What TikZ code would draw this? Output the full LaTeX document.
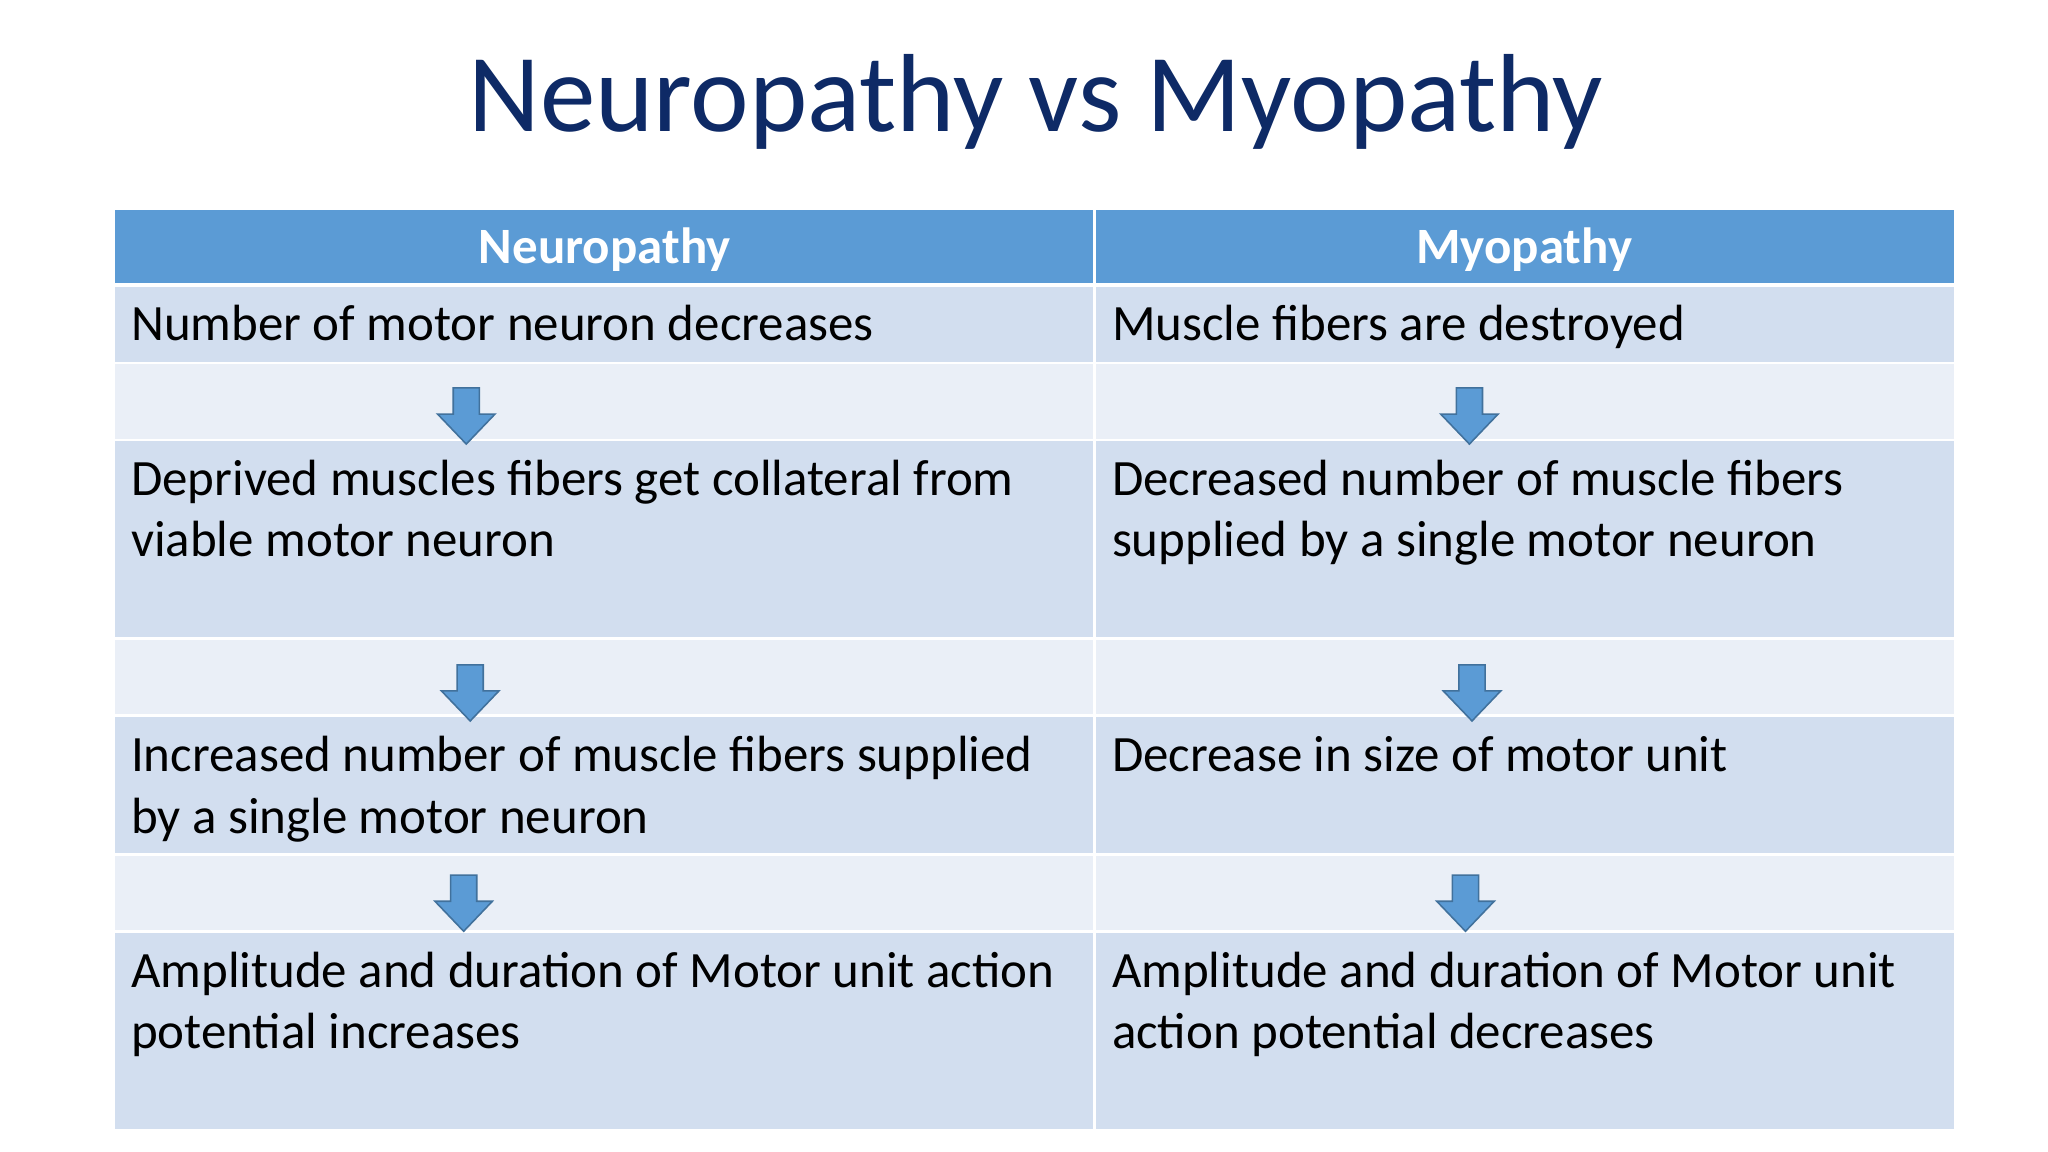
\documentclass[tikz,border=0pt]{standalone}
\usepackage{fontspec}
\setmainfont{Carlito}
\definecolor{hdr}{HTML}{5B9BD5}
\definecolor{dk}{HTML}{D2DEEF}
\definecolor{lt}{HTML}{EAEFF7}
\definecolor{ttl}{HTML}{0E2A66}
\definecolor{arf}{HTML}{5B9BD5}
\definecolor{ars}{HTML}{41719C}
\tikzset{
 cell/.style={fill=#1,draw=none},
 body/.style={anchor=base west,inner sep=0pt,font=\fontsize{19.5}{22}\selectfont,text=black},
 hd/.style={inner sep=0pt,font=\fontsize{19.5}{22}\selectfont\bfseries,text=white},
 arr/.style={fill=arf,draw=ars,line width=0.6pt}
}
\newcommand{\downarr}[2]{\draw[arr] (#1-10,#2) -- (#1+10,#2) -- (#1+10,#2+20) -- (#1+22,#2+20) -- (#1,#2+43) -- (#1-22,#2+20) -- (#1-10,#2+20) -- cycle;}
\begin{document}
\begin{tikzpicture}[x=0.5pt,y=-0.5pt]
\useasboundingbox[fill=white] (0,0) rectangle (1568,882);
\node[font=\fontsize{42.5}{50}\selectfont,text=ttl,inner sep=0pt] (title) at (793,78) {Neuropathy vs Myopathy};
% header
\fill[cell=hdr] (88,161) rectangle (837,217);
\fill[cell=hdr] (839,161) rectangle (1496,217);
\node[hd] (h1) at (463,191) {Neuropathy};
\node[hd] (h2) at (1167,191) {Myopathy};
% rows
\foreach \a/\b/\c in {220/277/dk,279/336/lt,338/488/dk,490/547/lt,549/653/dk,655/712/lt,714/864/dk}{
 \fill[cell=\c] (88,\a) rectangle (837,\b);
 \fill[cell=\c] (839,\a) rectangle (1496,\b);
}
\node[body] (l1) at (100,261) {Number of motor neuron decreases};
\node[body] (r1) at (851,261) {Muscle fibers are destroyed};
\node[body] (l3a) at (100,379) {Deprived muscles fibers get collateral from};
\node[body] (l3b) at (100,426) {viable motor neuron};
\node[body] (r3a) at (851,379) {Decreased number of muscle fibers};
\node[body] (r3b) at (851,426) {supplied by a single motor neuron};
\node[body] (l5a) at (100,591) {Increased number of muscle fibers supplied};
\node[body] (l5b) at (100,638) {by a single motor neuron};
\node[body] (r5a) at (851,591) {Decrease in size of motor unit};
\node[body] (l7a) at (100,756) {Amplitude and duration of Motor unit action};
\node[body] (l7b) at (100,803) {potential increases};
\node[body] (r7a) at (851,756) {Amplitude and duration of Motor unit};
\node[body] (r7b) at (851,803) {action potential decreases};
\downarr{357}{297}
\downarr{1125}{297}
\downarr{360}{509}
\downarr{1127}{509}
\downarr{355}{670}
\downarr{1122}{670}
\end{tikzpicture}
\end{document}
